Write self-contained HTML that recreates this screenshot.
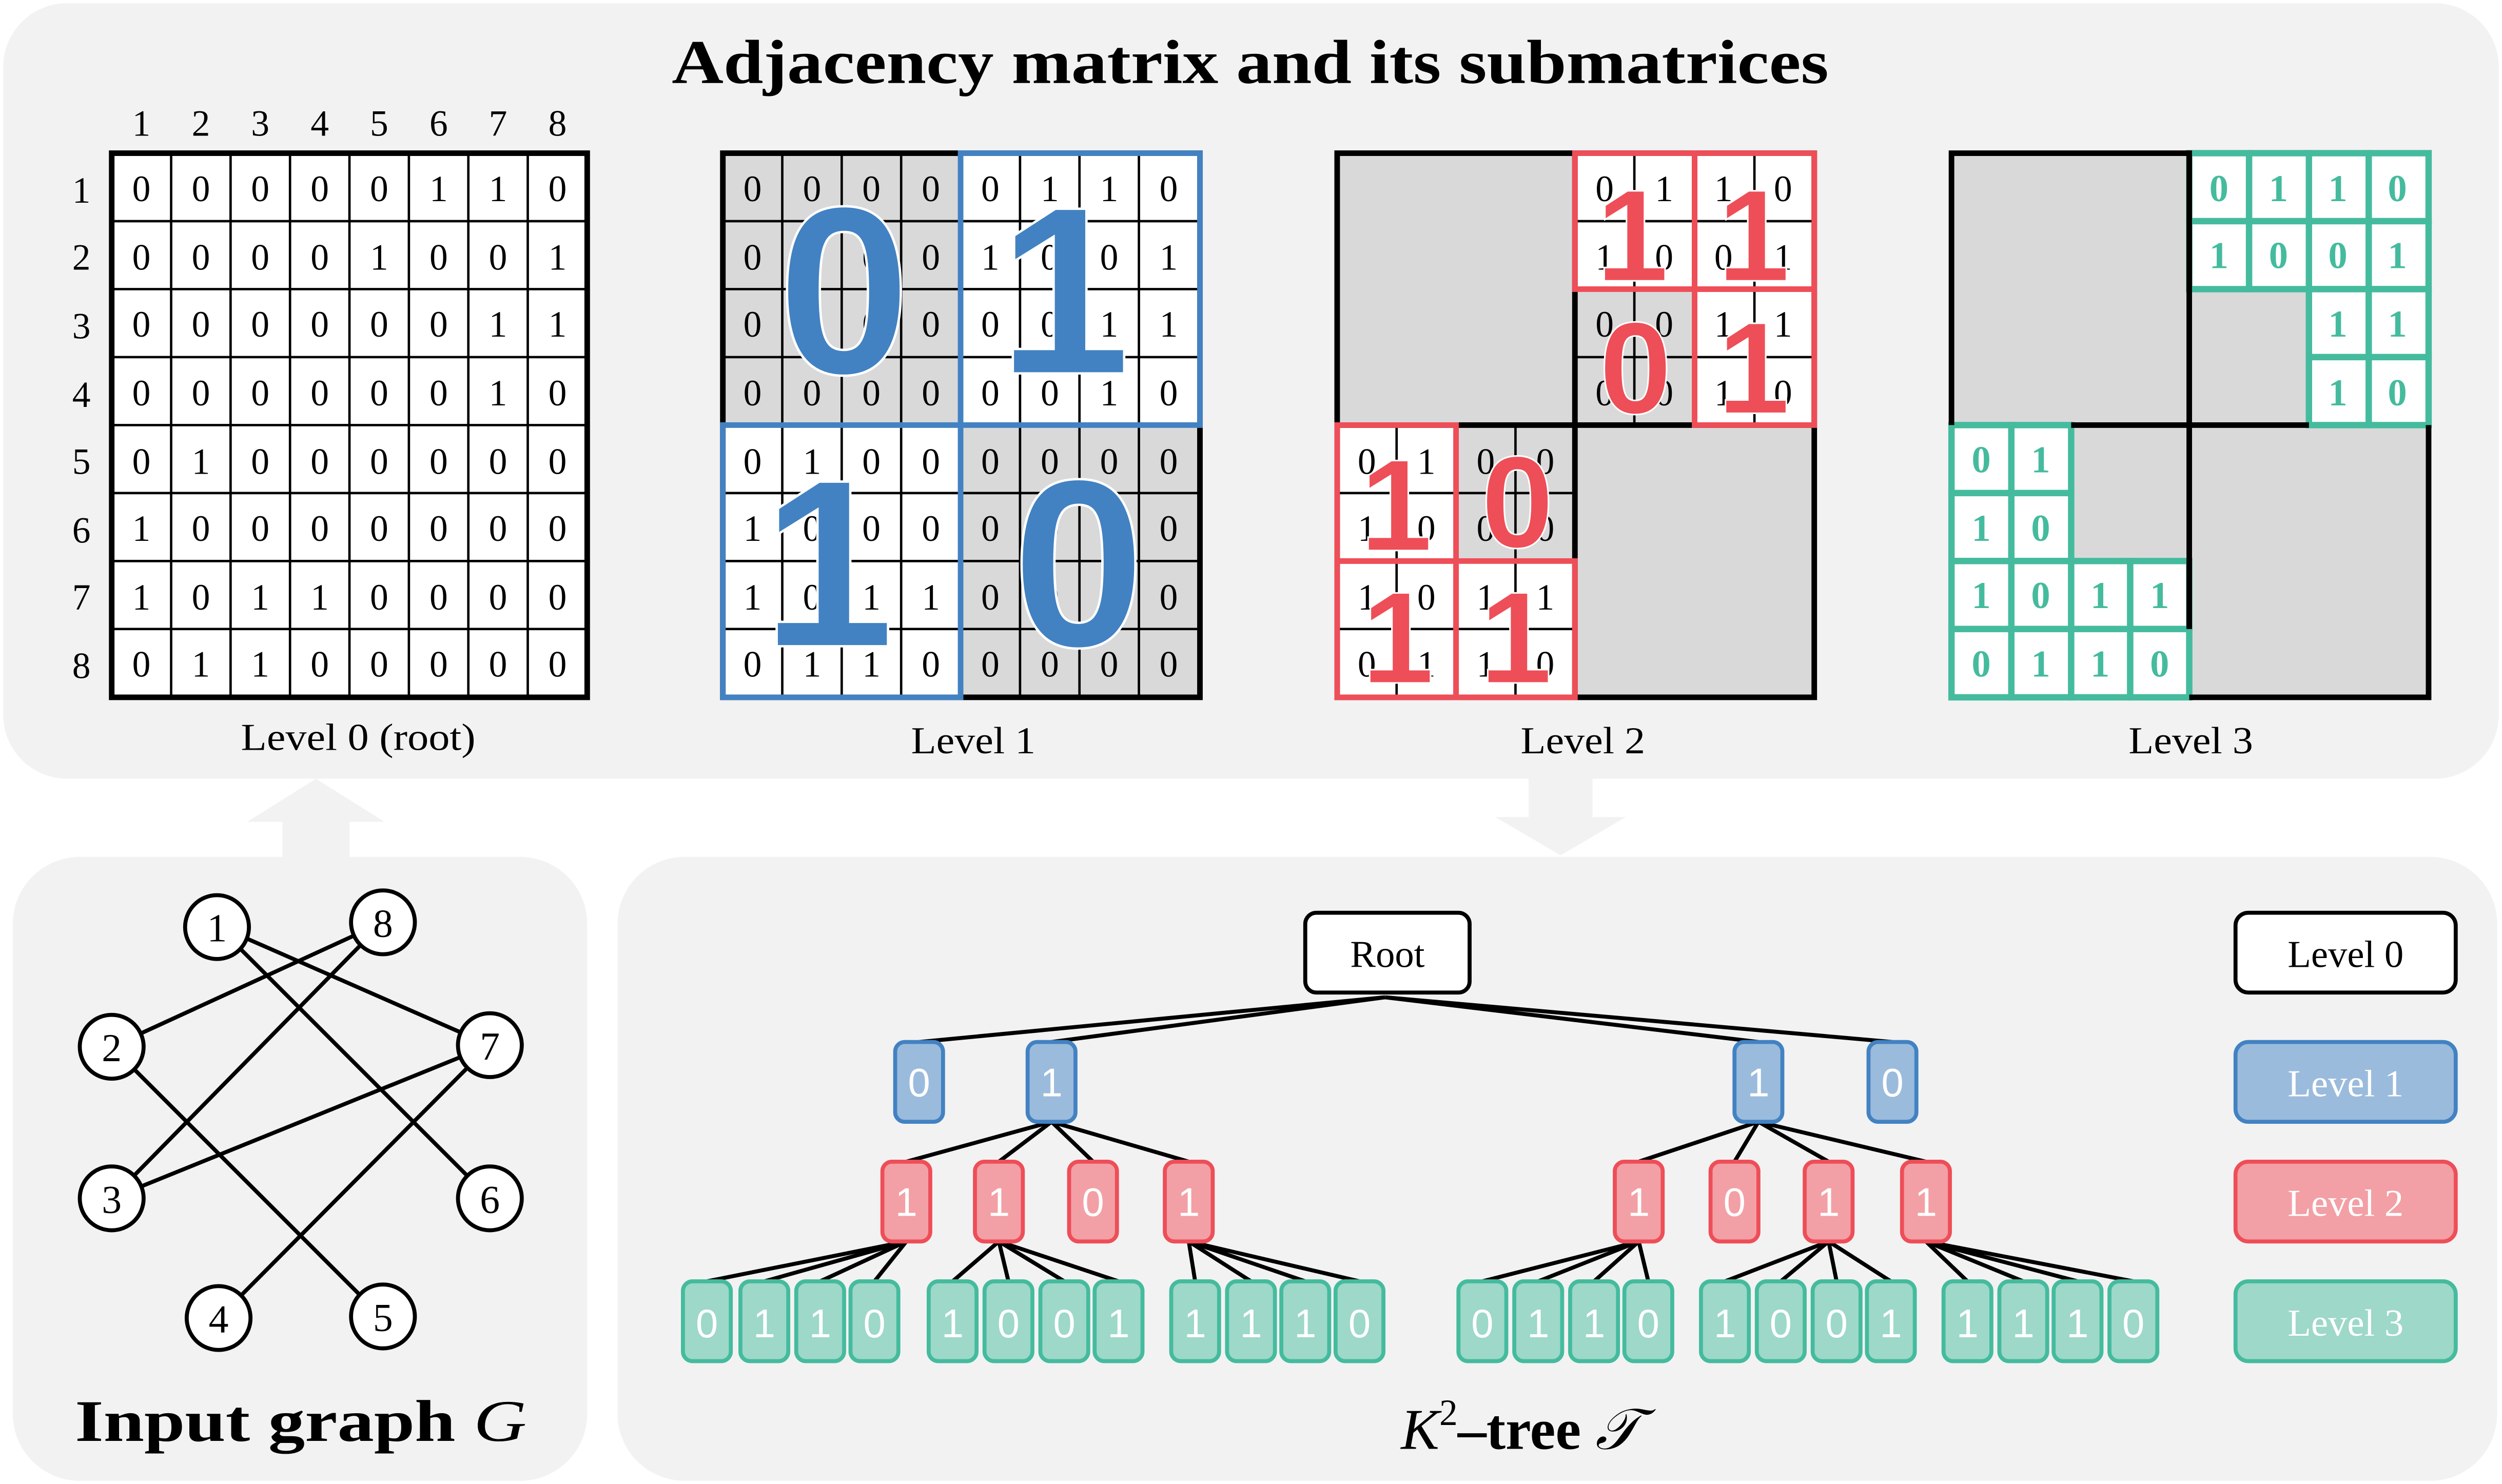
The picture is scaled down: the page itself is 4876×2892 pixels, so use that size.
<!DOCTYPE html>
<html><head><meta charset="utf-8"><style>
html,body{margin:0;padding:0;background:#fff;}
svg{display:block;}
.s{font-family:"Liberation Serif",serif;}
.a{font-family:"Liberation Sans",Arial,sans-serif;}
</style></head><body>
<svg width="4876" height="2892" viewBox="0 0 1568 930" xmlns="http://www.w3.org/2000/svg">
<!-- panels -->
<rect x="2" y="2" width="1564" height="486" rx="40" fill="#f2f2f2"/>
<rect x="8" y="537" width="360" height="391" rx="42" fill="#f2f2f2"/>
<rect x="387" y="537" width="1178" height="391" rx="42" fill="#f2f2f2"/>
<polygon points="177,540 177,515 155,515 198,488 241,515 219,515 219,540" fill="#f2f2f2"/>
<polygon points="958,485 958,512 937,512 978,536 1019,512 998,512 998,485" fill="#f2f2f2"/>

<text class="s" x="421" y="52" font-size="39" font-weight="bold" textLength="725" lengthAdjust="spacingAndGlyphs">Adjacency matrix and its submatrices</text>

<!-- Matrix 0 -->
<g class="s" font-size="23" text-anchor="middle">
<text x="88.6 125.9 163.1 200.4 237.6 274.9 312.1 349.4" y="85">12345678</text>
<text x="51" y="127">1</text><text x="51" y="169">2</text><text x="51" y="212">3</text><text x="51" y="255">4</text>
<text x="51" y="297">5</text><text x="51" y="340">6</text><text x="51" y="382">7</text><text x="51" y="425">8</text>
</g>
<rect x="70" y="96" width="298" height="341" fill="#fff"/>
<path d="M107.25 96V437M144.5 96V437M181.75 96V437M219 96V437M256.25 96V437M293.5 96V437M330.75 96V437M70 138.6H368M70 181.2H368M70 223.8H368M70 266.4H368M70 309H368M70 351.6H368M70 394.2H368" stroke="#000" stroke-width="1.5"/>
<rect x="70" y="96" width="298" height="341" fill="none" stroke="#000" stroke-width="3.5"/>
<g class="s" font-size="23" text-anchor="middle">
<text x="88.6 125.9 163.1 200.4 237.6 274.9 312.1 349.4" y="126">00000110</text>
<text x="88.6 125.9 163.1 200.4 237.6 274.9 312.1 349.4" y="169">00001001</text>
<text x="88.6 125.9 163.1 200.4 237.6 274.9 312.1 349.4" y="211">00000011</text>
<text x="88.6 125.9 163.1 200.4 237.6 274.9 312.1 349.4" y="254">00000010</text>
<text x="88.6 125.9 163.1 200.4 237.6 274.9 312.1 349.4" y="297">01000000</text>
<text x="88.6 125.9 163.1 200.4 237.6 274.9 312.1 349.4" y="339">10000000</text>
<text x="88.6 125.9 163.1 200.4 237.6 274.9 312.1 349.4" y="382">10110000</text>
<text x="88.6 125.9 163.1 200.4 237.6 274.9 312.1 349.4" y="424">01100000</text>
</g>
<g class="s" font-size="24">
<text x="151" y="470" textLength="147" lengthAdjust="spacingAndGlyphs">Level 0 (root)</text>
<text x="571" y="472" textLength="78" lengthAdjust="spacingAndGlyphs">Level 1</text>
<text x="953" y="472" textLength="78" lengthAdjust="spacingAndGlyphs">Level 2</text>
<text x="1334" y="472" textLength="78" lengthAdjust="spacingAndGlyphs">Level 3</text>
</g>

<!-- Matrix 1 -->
<rect x="453" y="96" width="299" height="341" fill="#fff"/>
<rect x="453" y="96" width="149" height="170.4" fill="#d9d9d9"/>
<rect x="602" y="266.4" width="150" height="170.6" fill="#d9d9d9"/>
<path d="M490.25 96V437M527.5 96V437M564.75 96V437M639.25 96V437M676.5 96V437M713.75 96V437M453 138.6H752M453 181.2H752M453 223.8H752M453 309H752M453 351.6H752M453 394.2H752" stroke="#000" stroke-width="1.5"/>
<g class="s" font-size="23" text-anchor="middle">
<text x="471.6 508.9 546.1 583.4 620.6 657.9 695.1 732.4" y="126">00000110</text>
<text x="471.6 508.9 546.1 583.4 620.6 657.9 695.1 732.4" y="169">00001001</text>
<text x="471.6 508.9 546.1 583.4 620.6 657.9 695.1 732.4" y="211">00000011</text>
<text x="471.6 508.9 546.1 583.4 620.6 657.9 695.1 732.4" y="254">00000010</text>
<text x="471.6 508.9 546.1 583.4 620.6 657.9 695.1 732.4" y="297">01000000</text>
<text x="471.6 508.9 546.1 583.4 620.6 657.9 695.1 732.4" y="339">10000000</text>
<text x="471.6 508.9 546.1 583.4 620.6 657.9 695.1 732.4" y="382">10110000</text>
<text x="471.6 508.9 546.1 583.4 620.6 657.9 695.1 732.4" y="424">01100000</text>
</g>
<rect x="453" y="96" width="299" height="341" fill="none" stroke="#000" stroke-width="3.5"/>
<rect x="602" y="96" width="150" height="170.4" fill="none" stroke="#4282c2" stroke-width="3.5"/>
<rect x="453" y="266.4" width="149" height="170.6" fill="none" stroke="#4282c2" stroke-width="3.5"/>
<g class="a" font-size="150" font-weight="bold" fill="#4282c2" stroke="#fff" stroke-width="1.5" text-anchor="middle">
<text x="529" y="234">0</text><text x="667" y="234">1</text>
<text x="519" y="405">1</text><text x="676" y="405">0</text>
</g>

<!-- Matrix 2 -->
<rect x="838" y="96" width="299" height="341" fill="#fff"/>
<rect x="838" y="96" width="149" height="170.4" fill="#d9d9d9"/>
<rect x="987" y="266.4" width="150" height="170.6" fill="#d9d9d9"/>
<rect x="987" y="181.2" width="75" height="85.2" fill="#d9d9d9"/>
<rect x="912.5" y="266.4" width="74.5" height="85.2" fill="#d9d9d9"/>
<path d="M1024.25 96V266.4M1099.5 96V266.4M987 138.6H1137M987 223.8H1137M875.25 266.4V437M949.75 266.4V437M838 309H987M838 394.2H987" stroke="#000" stroke-width="1.5"/>
<g class="s" font-size="23" text-anchor="middle">
<text x="1005.6 1042.9 1080.1 1117.4" y="126">0110</text>
<text x="1005.6 1042.9 1080.1 1117.4" y="169">1001</text>
<text x="1005.6 1042.9 1080.1 1117.4" y="211">0011</text>
<text x="1005.6 1042.9 1080.1 1117.4" y="254">0010</text>
<text x="856.6 893.9 931.1 968.4" y="297">0100</text>
<text x="856.6 893.9 931.1 968.4" y="339">1000</text>
<text x="856.6 893.9 931.1 968.4" y="382">1011</text>
<text x="856.6 893.9 931.1 968.4" y="424">0110</text>
</g>
<rect x="838" y="96" width="299" height="341" fill="none" stroke="#000" stroke-width="3.5"/>
<path d="M987 96V437M838 266.4H1137" stroke="#000" stroke-width="3.5"/>
<g fill="none" stroke="#ee4e58" stroke-width="3.5">
<rect x="987" y="96" width="75" height="85.2"/><rect x="1062" y="96" width="75" height="85.2"/>
<rect x="1062" y="181.2" width="75" height="85.2"/>
<rect x="838" y="266.4" width="74.5" height="85.2"/>
<rect x="838" y="351.6" width="74.5" height="85.4"/><rect x="912.5" y="351.6" width="74.5" height="85.4"/>
</g>
<g class="a" font-size="82" font-weight="bold" fill="#ee4e58" stroke="#fff" stroke-width="1" text-anchor="middle">
<text x="1023" y="176">1</text><text x="1099" y="176">1</text>
<text x="1025" y="259">0</text><text x="1099" y="259">1</text>
<text x="875" y="345">1</text><text x="951" y="343">0</text>
<text x="876" y="428">1</text><text x="950" y="428">1</text>
</g>

<!-- Matrix 3 -->
<rect x="1223" y="96" width="299" height="341" fill="#d9d9d9"/>
<g fill="#fff" stroke="#45bb9e" stroke-width="4">
<rect x="1372" y="96" width="37.5" height="42.6"/><rect x="1409.5" y="96" width="37.5" height="42.6"/><rect x="1447" y="96" width="37.5" height="42.6"/><rect x="1484.5" y="96" width="37.5" height="42.6"/>
<rect x="1372" y="138.6" width="37.5" height="42.6"/><rect x="1409.5" y="138.6" width="37.5" height="42.6"/><rect x="1447" y="138.6" width="37.5" height="42.6"/><rect x="1484.5" y="138.6" width="37.5" height="42.6"/>
<rect x="1447" y="181.2" width="37.5" height="42.6"/><rect x="1484.5" y="181.2" width="37.5" height="42.6"/>
<rect x="1447" y="223.8" width="37.5" height="42.6"/><rect x="1484.5" y="223.8" width="37.5" height="42.6"/>
<rect x="1223" y="266.4" width="37.5" height="42.6"/><rect x="1260.5" y="266.4" width="37.5" height="42.6"/>
<rect x="1223" y="309" width="37.5" height="42.6"/><rect x="1260.5" y="309" width="37.5" height="42.6"/>
<rect x="1223" y="351.6" width="37.5" height="42.6"/><rect x="1260.5" y="351.6" width="37.5" height="42.6"/><rect x="1298" y="351.6" width="37" height="42.6"/><rect x="1335" y="351.6" width="37" height="42.6"/>
<rect x="1223" y="394.2" width="37.5" height="42.8"/><rect x="1260.5" y="394.2" width="37.5" height="42.8"/><rect x="1298" y="394.2" width="37" height="42.8"/><rect x="1335" y="394.2" width="37" height="42.8"/>
</g>
<path d="M1223 266.4V96H1372V266.4M1298 266.4H1447M1372 181.2V394.2M1522 266.4V437H1372" fill="none" stroke="#000" stroke-width="3.5"/>
<g class="s" font-size="24" font-weight="bold" fill="#45bb9e" text-anchor="middle">
<text x="1390.6 1427.9 1465.1 1502.4" y="126">0110</text>
<text x="1390.6 1427.9 1465.1 1502.4" y="168">1001</text>
<text x="1465.1 1502.4" y="211">11</text>
<text x="1465.1 1502.4" y="254">10</text>
<text x="1241.6 1278.9" y="296">01</text>
<text x="1241.6 1278.9" y="339">10</text>
<text x="1241.6 1278.9 1316.1 1353.4" y="381">1011</text>
<text x="1241.6 1278.9 1316.1 1353.4" y="424">0110</text>
</g>

<!-- Input graph -->
<path d="M136 580L307 655M136 580L307 751M70 656L240 578M70 656L240 826M70 751L240 578M70 751L307 655M137 826L307 655" stroke="#000" stroke-width="2.5"/>
<g fill="#fff" stroke="#000" stroke-width="2.5">
<circle cx="136" cy="581" r="20"/><circle cx="240" cy="578" r="20"/><circle cx="70" cy="656" r="20"/><circle cx="307" cy="655" r="20"/>
<circle cx="70" cy="751" r="20"/><circle cx="307" cy="751" r="20"/><circle cx="137" cy="826" r="20"/><circle cx="240" cy="825" r="20"/>
</g>
<g class="s" font-size="25" text-anchor="middle">
<text x="136" y="590">1</text><text x="240" y="587">8</text><text x="70" y="665">2</text><text x="307" y="664">7</text>
<text x="70" y="760">3</text><text x="307" y="760">6</text><text x="137" y="835">4</text><text x="240" y="834">5</text>
</g>
<text class="s" x="47" y="903" font-size="37" textLength="283" lengthAdjust="spacingAndGlyphs"><tspan font-weight="bold">Input graph </tspan><tspan font-style="italic">G</tspan></text>

<!-- Tree edges -->
<g stroke="#000" stroke-width="2.5">
<path d="M868 625L576 653M868 625L659 653M868 625L1102 653M868 625L1186 653"/>
<path d="M659 703L568 728M659 703L626 728M659 703L685 728M659 703L745 728"/>
<path d="M1102 703L1027 728M1102 703L1087 728M1102 703L1146 728M1102 703L1207 728"/>
<path d="M568 778L443 803M568 778L479 803M568 778L514 803M568 778L548 803"/>
<path d="M626 778L597 803M626 778L632 803M626 778L667 803M626 778L701 803"/>
<path d="M745 778L749 803M745 778L784 803M745 778L818 803M745 778L852 803"/>
<path d="M1027 778L929 803M1027 778L964 803M1027 778L999 803M1027 778L1033 803"/>
<path d="M1146 778L1081 803M1146 778L1116 803M1146 778L1151 803M1146 778L1185 803"/>
<path d="M1207 778L1233 803M1207 778L1268 803M1207 778L1302 803M1207 778L1337 803"/>
</g>
<rect x="818" y="572" width="103" height="50" rx="7" fill="#fff" stroke="#000" stroke-width="2.5"/>
<text class="s" x="869.5" y="606" font-size="24" text-anchor="middle">Root</text>

<g fill="#9bbbdc" stroke="#4282c2" stroke-width="2.5">
<rect x="561" y="653" width="30" height="50" rx="6"/><rect x="644" y="653" width="30" height="50" rx="6"/>
<rect x="1087" y="653" width="30" height="50" rx="6"/><rect x="1171" y="653" width="30" height="50" rx="6"/>
</g>
<g fill="#f2a0a5" stroke="#ee4e58" stroke-width="2.5">
<rect x="553" y="728" width="30" height="50" rx="6"/><rect x="611" y="728" width="30" height="50" rx="6"/><rect x="670" y="728" width="30" height="50" rx="6"/><rect x="730" y="728" width="30" height="50" rx="6"/>
<rect x="1012" y="728" width="30" height="50" rx="6"/><rect x="1072" y="728" width="30" height="50" rx="6"/><rect x="1131" y="728" width="30" height="50" rx="6"/><rect x="1192" y="728" width="30" height="50" rx="6"/>
</g>
<g fill="#9dd8c8" stroke="#45bb9e" stroke-width="2.5">
<rect x="428" y="803" width="30" height="50" rx="6"/><rect x="464" y="803" width="30" height="50" rx="6"/><rect x="499" y="803" width="30" height="50" rx="6"/><rect x="533" y="803" width="30" height="50" rx="6"/>
<rect x="582" y="803" width="30" height="50" rx="6"/><rect x="617" y="803" width="30" height="50" rx="6"/><rect x="652" y="803" width="30" height="50" rx="6"/><rect x="686" y="803" width="30" height="50" rx="6"/>
<rect x="734" y="803" width="30" height="50" rx="6"/><rect x="769" y="803" width="30" height="50" rx="6"/><rect x="803" y="803" width="30" height="50" rx="6"/><rect x="837" y="803" width="30" height="50" rx="6"/>
<rect x="914" y="803" width="30" height="50" rx="6"/><rect x="949" y="803" width="30" height="50" rx="6"/><rect x="984" y="803" width="30" height="50" rx="6"/><rect x="1018" y="803" width="30" height="50" rx="6"/>
<rect x="1066" y="803" width="30" height="50" rx="6"/><rect x="1101" y="803" width="30" height="50" rx="6"/><rect x="1136" y="803" width="30" height="50" rx="6"/><rect x="1170" y="803" width="30" height="50" rx="6"/>
<rect x="1218" y="803" width="30" height="50" rx="6"/><rect x="1253" y="803" width="30" height="50" rx="6"/><rect x="1287" y="803" width="30" height="50" rx="6"/><rect x="1322" y="803" width="30" height="50" rx="6"/>
</g>
<g class="a" font-size="25" fill="#fff" text-anchor="middle">
<text x="576 659 1102 1186" y="687">0110</text>
<text x="568 626 685 745 1027 1087 1146 1207" y="762">11011011</text>
<text x="443 479 514 548 597 632 667 701 749 784 818 852" y="838">011010011110</text>
<text x="929 964 999 1033 1081 1116 1151 1185 1233 1268 1302 1337" y="838">011010011110</text>
</g>

<!-- Legend -->
<rect x="1401" y="572" width="138" height="50" rx="8" fill="#fff" stroke="#000" stroke-width="2.5"/>
<rect x="1401" y="653" width="138" height="50" rx="8" fill="#9bbbdc" stroke="#4282c2" stroke-width="2.5"/>
<rect x="1401" y="728" width="138" height="50" rx="8" fill="#f2a0a5" stroke="#ee4e58" stroke-width="2.5"/>
<rect x="1401" y="803" width="138" height="50" rx="8" fill="#9dd8c8" stroke="#45bb9e" stroke-width="2.5"/>
<g class="s" font-size="24" text-anchor="middle">
<text x="1470" y="606">Level 0</text>
<text x="1470" y="687" fill="#fff">Level 1</text>
<text x="1470" y="762" fill="#fff">Level 2</text>
<text x="1470" y="837" fill="#fff">Level 3</text>
</g>
<text class="s" x="878" y="908" font-size="36"><tspan font-style="italic">K</tspan><tspan font-size="23" dy="-15">2</tspan><tspan dy="15" font-weight="bold">–tree </tspan><tspan font-style="italic">𝒯</tspan></text>
</svg>
</body></html>
